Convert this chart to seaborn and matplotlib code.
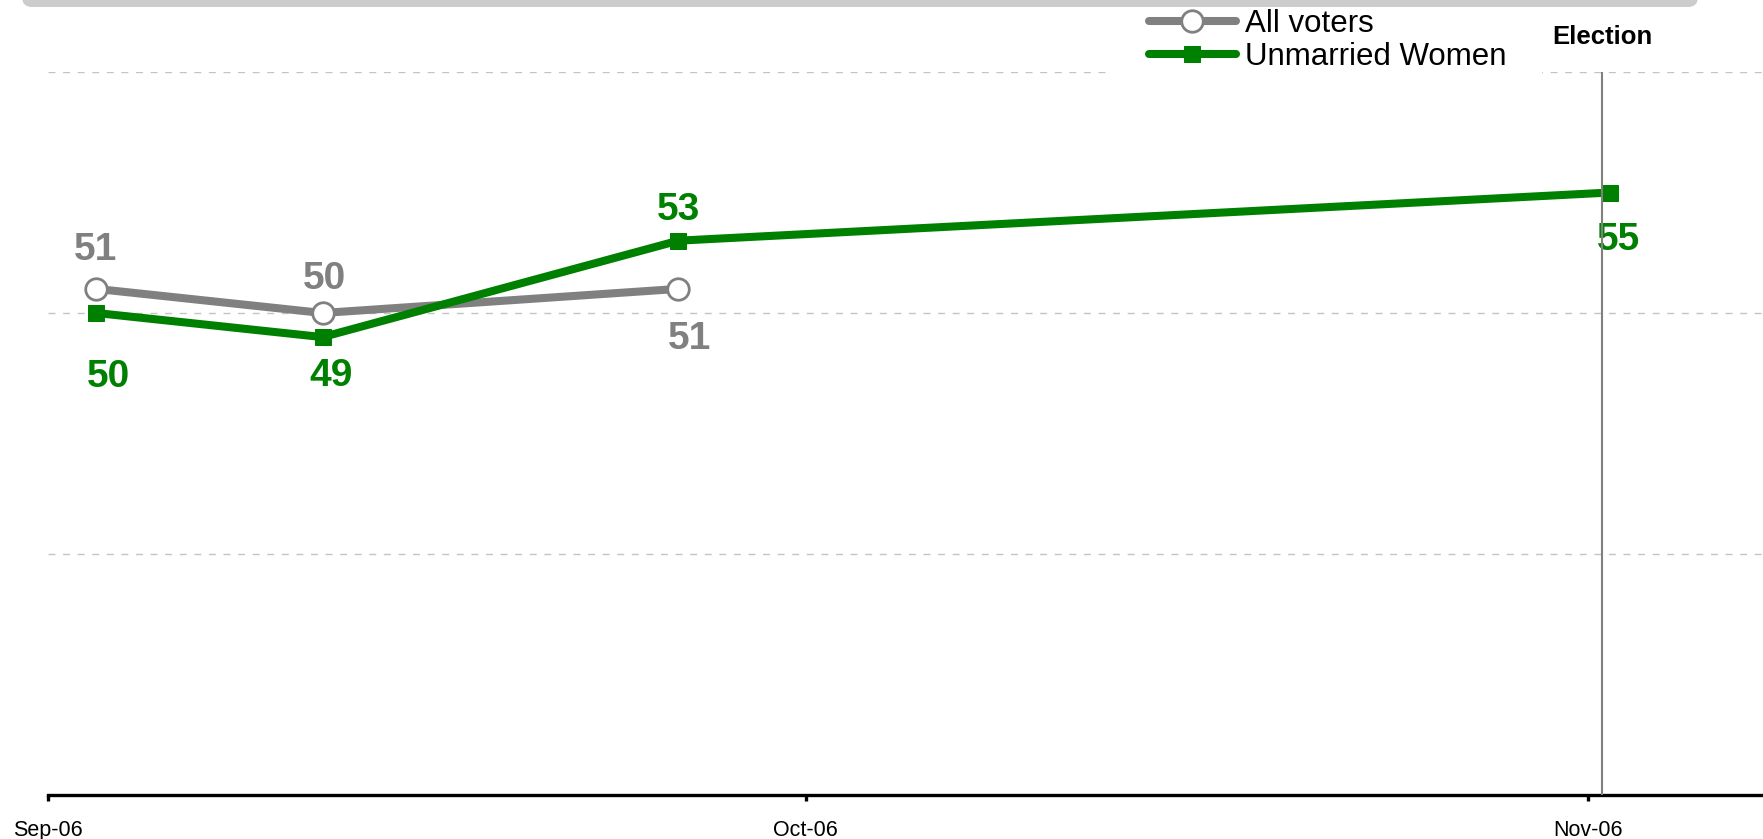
import pandas as pd
import matplotlib
matplotlib.use("Agg")
import matplotlib.pyplot as plt
from matplotlib.patches import FancyBboxPatch
import seaborn as sns

# data
all_dates = pd.to_datetime(["2006-09-02 22:00", "2006-09-11 21:00", "2006-09-25 23:00"])
all_voters = [51, 50, 51]
uw_dates = pd.to_datetime(["2006-09-02 22:00", "2006-09-11 21:00", "2006-09-25 23:00",
                           "2006-11-01 21:00"])
unmarried_women = [50, 49, 53, 55]
election_day = pd.Timestamp("2006-11-01 13:30")
tick_dates = pd.to_datetime(["2006-09-01", "2006-10-01", "2006-11-01"])
tick_labels = ["Sep-06", "Oct-06", "Nov-06"]

GRAY = "#808080"
GREEN = "#008000"

sns.set_style("white")
plt.rcParams["font.family"] = ["Liberation Sans", "DejaVu Sans"]
plt.rcParams["text.color"] = "black"

fig = plt.figure(figsize=(17.63, 8.39), dpi=100)
ax = fig.add_axes([48 / 1763, 44 / 839, 1 - 48 / 1763, 723 / 839])

sns.lineplot(x=all_dates, y=all_voters, ax=ax, color=GRAY, linewidth=5.8,
             marker="o", markersize=15.5, markerfacecolor="white",
             markeredgecolor=GRAY, markeredgewidth=2, label="All voters", zorder=3)
sns.lineplot(x=uw_dates, y=unmarried_women, ax=ax, color=GREEN, linewidth=5.8,
             marker="s", markersize=12, markerfacecolor=GREEN,
             markeredgecolor=GREEN, label="Unmarried Women", zorder=4)

# value labels (offsets in pixels)
all_off = [(-1, 39), (2, 34), (11, -50)]
uw_off = [(12, -64), (8, -39), (0, 31), (8, -48)]
for d, v, off in zip(all_dates, all_voters, all_off):
    ax.annotate(str(v), (d, v), xytext=off, textcoords="offset pixels",
                ha="center", va="center", fontsize=28, fontweight="bold", color=GRAY)
for d, v, off in zip(uw_dates, unmarried_women, uw_off):
    ax.annotate(str(v), (d, v), xytext=off, textcoords="offset pixels",
                ha="center", va="center", fontsize=28, fontweight="bold", color=GREEN)

# election marker
ax.axvline(election_day, color=GRAY, linewidth=1.5, zorder=5)
ax.annotate("Election", (election_day, 60), xytext=(0, 35), textcoords="offset pixels",
            ha="center", va="center", fontsize=18.5, fontweight="bold",
            color="black", annotation_clip=False)

ax.set_xlim(pd.Timestamp("2006-09-01"), pd.Timestamp("2006-09-01") + pd.Timedelta(days=67.92))
ax.set_ylim(30, 60)
ax.set_xticks(tick_dates)
ax.set_xticklabels(tick_labels, fontsize=15.5, color="black")
ax.set_yticks([40, 50, 60])
ax.set_yticklabels([])
ax.tick_params(axis="y", length=0)
ax.tick_params(axis="x", length=4, width=2.4, color="black", pad=14, direction="out",
               bottom=True)
ax.yaxis.grid(True, color="#c4c4c4", linestyle=(0, (5, 5.5)), linewidth=1)
ax.xaxis.grid(False)
ax.set_xlabel("")
ax.set_ylabel("")
sns.despine(ax=ax, left=True)
ax.spines["bottom"].set_linewidth(2.4)
ax.spines["bottom"].set_color("black")

leg = ax.legend(loc="upper left", bbox_to_anchor=(1113 / 1763, 1 + 27 / 839),
                bbox_transform=fig.transFigure, fontsize=22.5, frameon=True,
                facecolor="white", edgecolor="none", framealpha=1, borderpad=1.15,
                borderaxespad=0, handlelength=2.77, handletextpad=0.29,
                labelspacing=0.1, labelcolor="black")

# grey bar across the top of the slide
bar = FancyBboxPatch((0.22, 8.32), 16.76, 0.5, boxstyle="round,pad=0,rounding_size=0.1",
                     transform=fig.dpi_scale_trans, facecolor="#cccccc", edgecolor="none")
fig.add_artist(bar)

plt.savefig("out.png", dpi=100)
